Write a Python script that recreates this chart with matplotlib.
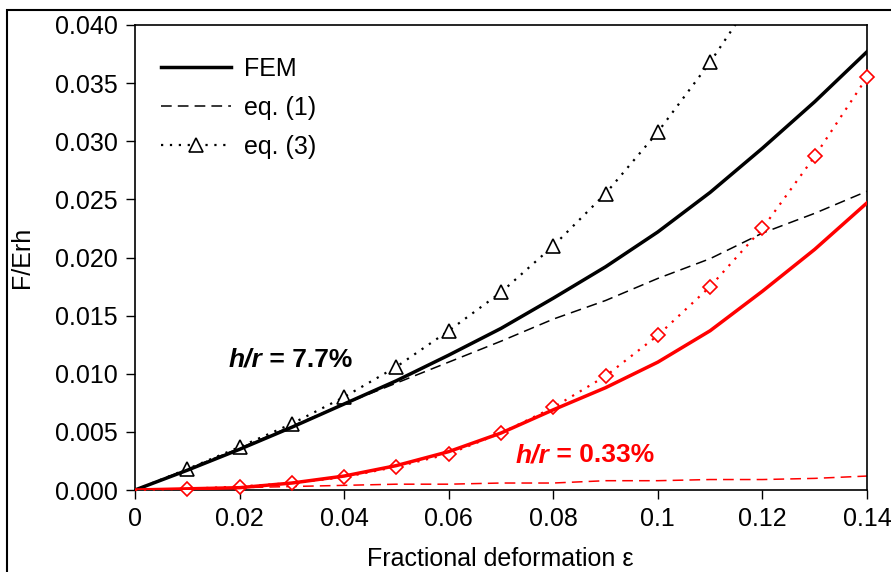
import numpy as np
import matplotlib
matplotlib.use('Agg')
import matplotlib.pyplot as plt
from matplotlib.patches import Rectangle
from matplotlib.transforms import offset_copy

plt.rcParams['font.family'] = ['Liberation Sans', 'DejaVu Sans']

# strain values
eps = [0.0, 0.01, 0.02, 0.03, 0.04, 0.05, 0.06, 0.07, 0.08, 0.09, 0.10, 0.11, 0.12, 0.13, 0.14]

# h/r = 7.7 %
fem_thick = [0.0, 0.0017, 0.0035, 0.0054, 0.0074, 0.0094, 0.0116, 0.0139, 0.0165, 0.0192,
             0.0222, 0.0256, 0.0294, 0.0334, 0.0377]
eq1_thick = [0.0, 0.0018, 0.0036, 0.0055, 0.0074, 0.0092, 0.0110, 0.0128, 0.0147, 0.0163,
             0.0182, 0.0199, 0.0221, 0.0238, 0.0257]
eps_eq3_thick = [0.0, 0.01, 0.02, 0.03, 0.04, 0.05, 0.06, 0.07, 0.08, 0.09, 0.10, 0.11, 0.12]
eq3_thick = [0.0, 0.0018, 0.0037, 0.0057, 0.0080, 0.0106, 0.0137, 0.0170, 0.0210, 0.0255,
             0.0308, 0.0368, 0.0435]

# h/r = 0.33 %
fem_thin = [0.0, 0.0001, 0.0002, 0.0006, 0.0012, 0.0021, 0.0033, 0.0049, 0.0069, 0.0088,
            0.0110, 0.0137, 0.0171, 0.0207, 0.0247]
eq1_thin = [0.0, 0.0001, 0.0002, 0.0003, 0.0004, 0.0005, 0.0005, 0.0006, 0.0006, 0.0008,
            0.0008, 0.0009, 0.0009, 0.0010, 0.0012]
eq3_thin = [0.0, 0.0001, 0.0003, 0.0006, 0.0011, 0.0020, 0.0031, 0.0049, 0.0071, 0.0098,
            0.0133, 0.0175, 0.0225, 0.0287, 0.0355]

xticks = [0, 0.02, 0.04, 0.06, 0.08, 0.1, 0.12, 0.14]
xticklabels = ['0', '0.02', '0.04', '0.06', '0.08', '0.1', '0.12', '0.14']
yticks = [0.0, 0.005, 0.010, 0.015, 0.020, 0.025, 0.030, 0.035, 0.040]

fig = plt.figure(figsize=(8.91, 5.72), dpi=100)
ax = fig.add_axes([135/891, 1 - 490/572, 732/891, 465/572])

ax.plot(eps_eq3_thick, eq3_thick, color='black', ls=(0, (1, 3)), lw=1.6,
        marker='^', ms=10, mfc='white', mec='black', mew=1.2,
        markevery=list(range(1, 12)), label='eq. (3)', zorder=3)
ax.plot(eps, eq1_thick, color='black', ls=(0, (7, 4)), lw=1.1, label='eq. (1)', zorder=2)
ax.plot(eps, fem_thick, color='black', lw=2.5, label='FEM', zorder=4)

ax.plot(eps, eq3_thin, color='red', ls=(0, (1, 3)), lw=1.6,
        marker='D', ms=7.5, mfc='white', mec='red', mew=1.2,
        markevery=list(range(1, 15)), zorder=3, clip_on=False)
ax.plot(eps, eq1_thin, color='red', ls=(0, (7, 4)), lw=1.1, zorder=2)
ax.plot(eps, fem_thin, color='red', lw=2.5, zorder=4)

ax.set_xlim(0, 0.14)
ax.set_ylim(0, 0.04)
ax.set_xticks(xticks)
ax.set_xticklabels(xticklabels)
ax.set_yticks(yticks)
ax.set_yticklabels(['%.3f' % v for v in yticks])
ax.tick_params(direction='out', length=6.5, width=1, labelsize=18)
ax.tick_params(axis='y', pad=6)
ax.tick_params(axis='x', pad=6)
for s in ax.spines.values():
    s.set_linewidth(1.2)

handles, labels = ax.get_legend_handles_labels()
order = [2, 1, 0]
ax.legend([handles[i] for i in order], [labels[i] for i in order],
          loc='upper left', bbox_to_anchor=(0.005, 0.98), frameon=False,
          fontsize=18, handlelength=2.8, handletextpad=0.5, labelspacing=0.6)


def label(x, y, value, color):
    t = ax.text(x, y, 'h/r', fontsize=19, fontweight='bold', fontstyle='italic',
                color=color, ha='left', va='center')
    r = fig.canvas.get_renderer()
    w = t.get_window_extent(renderer=r).width
    tr = offset_copy(ax.transData, fig=fig, x=w * 72 / fig.dpi, y=0, units='points')
    ax.text(x, y, ' = ' + value, fontsize=19, fontweight='bold', color=color,
            ha='left', va='center', transform=tr)


label(0.0179, 0.0112, '7.7%', 'black')
label(0.0727, 0.0030, '0.33%', 'red')

fig.text(22/891, 1 - 257/572, 'F/Erh', rotation=90, ha='center', va='center', fontsize=18)
fig.text(500/891, 1 - 559/572, 'Fractional deformation ε', ha='center', va='center', fontsize=18)

fig.add_artist(Rectangle((7/891, -0.1), 2, 1.1 - 10/572, transform=fig.transFigure,
                         fill=False, lw=1.5, color='black'))

fig.savefig('out.png', dpi=100)
